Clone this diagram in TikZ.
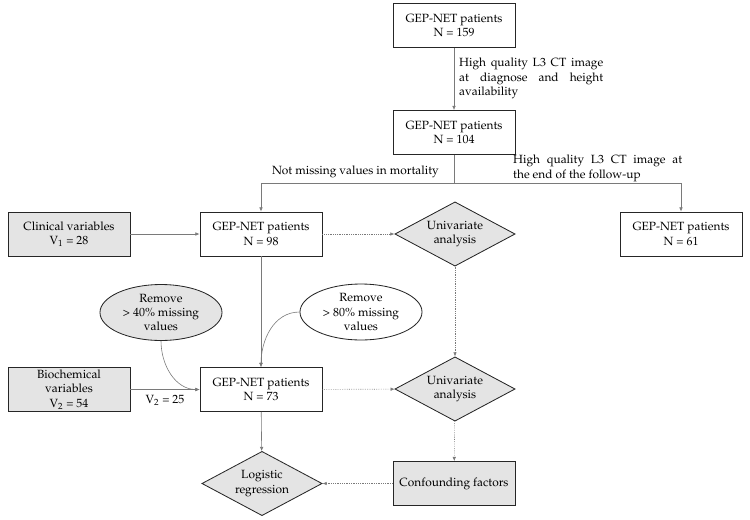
\documentclass[tikz,border=0pt]{standalone}
\usepackage[T1]{fontenc}
\usepackage{mathpazo}
\usepackage{tikz}
\usetikzlibrary{arrows.meta,shapes.geometric}

\definecolor{boxgrey}{HTML}{E4E4E4}
\definecolor{linegrey}{HTML}{7A7A7A}

\begin{document}
\begin{tikzpicture}[x=0.84pt,y=-0.84pt]
    % Style definitions for the flow chart
    \tikzset{
        % white boxes
        box/.style={draw=black!85, line width=0.7pt, fill=white, align=center,
            minimum width=102.5pt, minimum height=37pt, inner sep=1pt},
        % grey boxes
        greybox/.style={box, fill=boxgrey},
        % analysis steps
        decision/.style={diamond, aspect=1.9, draw=black!85, line width=0.7pt, fill=boxgrey,
            align=center, inner sep=0pt, minimum width=101pt, minimum height=54pt},
        % filters on missing values
        filter/.style={ellipse, draw=black!85, line width=0.7pt, fill=white,
            align=center, inner sep=0pt, minimum width=102.5pt, minimum height=47pt},
        % connectors
        line/.style={draw=linegrey, line width=0.5pt},
        link/.style={line, -{Latex[length=3.5pt,width=3pt]}},
        dlink/.style={link, densely dotted},
        % side notes
        note/.style={align=justify, inner sep=0pt,
            execute at begin node={\hyphenpenalty=10000}}
    }
    \useasboundingbox (0,0) rectangle (750,519);

    % Selection of patients
    \node[box] (n159) at (454,25.5) {GEP-NET patients\\N = 159};
    \node[box] (n104) at (454,132.5) {GEP-NET patients\\N = 104};
    \node[box] (n98) at (261,234) {GEP-NET patients\\N = 98};
    \node[box] (n61) at (681,234) {GEP-NET patients\\N = 61};
    \node[box] (n73) at (261,389.5) {GEP-NET patients\\N = 73};

    % Variables
    \node[greybox] (clin) at (69,234) {Clinical variables\\V$_1$ = 28};
    \node[greybox] (bioc) at (69,389.5) {Biochemical\\variables\\V$_2$ = 54};

    % Filters
    \node[filter, fill=boxgrey] (rm40) at (161,312.5) {Remove\\> 40\% missing\\values};
    \node[filter] (rm80) at (361,312) {Remove\\> 80\% missing\\values};

    % Analysis
    \node[decision] (uni1) at (455,234) {Univariate\\analysis};
    \node[decision] (uni2) at (455,389) {Univariate\\analysis};
    \node[greybox] (conf) at (454,483.5) {Confounding factors};
    \node[decision] (logit) at (262,483.5) {Logistic\\regression};

    % Side notes
    \node[note, text width=121pt, anchor=north west] (q1) at (459,58)
        {High quality L3 CT image at diagnose and height availability};
    \node[note, text width=142pt, anchor=north west] (q2) at (513,155)
        {High quality L3 CT image at\linebreak the end of the follow-up};
    \node[anchor=east, inner sep=0pt] (q3) at (439,172) {Not missing values in mortality};

    % Edges between nodes
    \coordinate (fork) at (454,183);
    \draw[link] (n159) -- (n104);
    \draw[line] (n104) -- (fork);
    \draw[link] (fork) -| (n98);
    \draw[link] (fork) -| (n61);

    \draw[link] (clin) -- (n98);
    \draw[link] (n98) -- (n73);
    \draw[link] (bioc) -- node[below=1pt] {V$_2$ = 25} (n73);
    \draw[link] (rm40.south) to[out=-90,in=180] (n73.west);
    \draw[link] (rm80.west) to[out=180,in=90] (n73.north);
    \draw[link] (n73) -- (logit);

    \draw[dlink] (n98) -- (uni1);
    \draw[dlink] (uni1) -- (uni2);
    \draw[dlink] (n73) -- (uni2);
    \draw[dlink] (uni2) -- (conf);
    \draw[dlink] (conf) -- (logit);
\end{tikzpicture}
\end{document}
